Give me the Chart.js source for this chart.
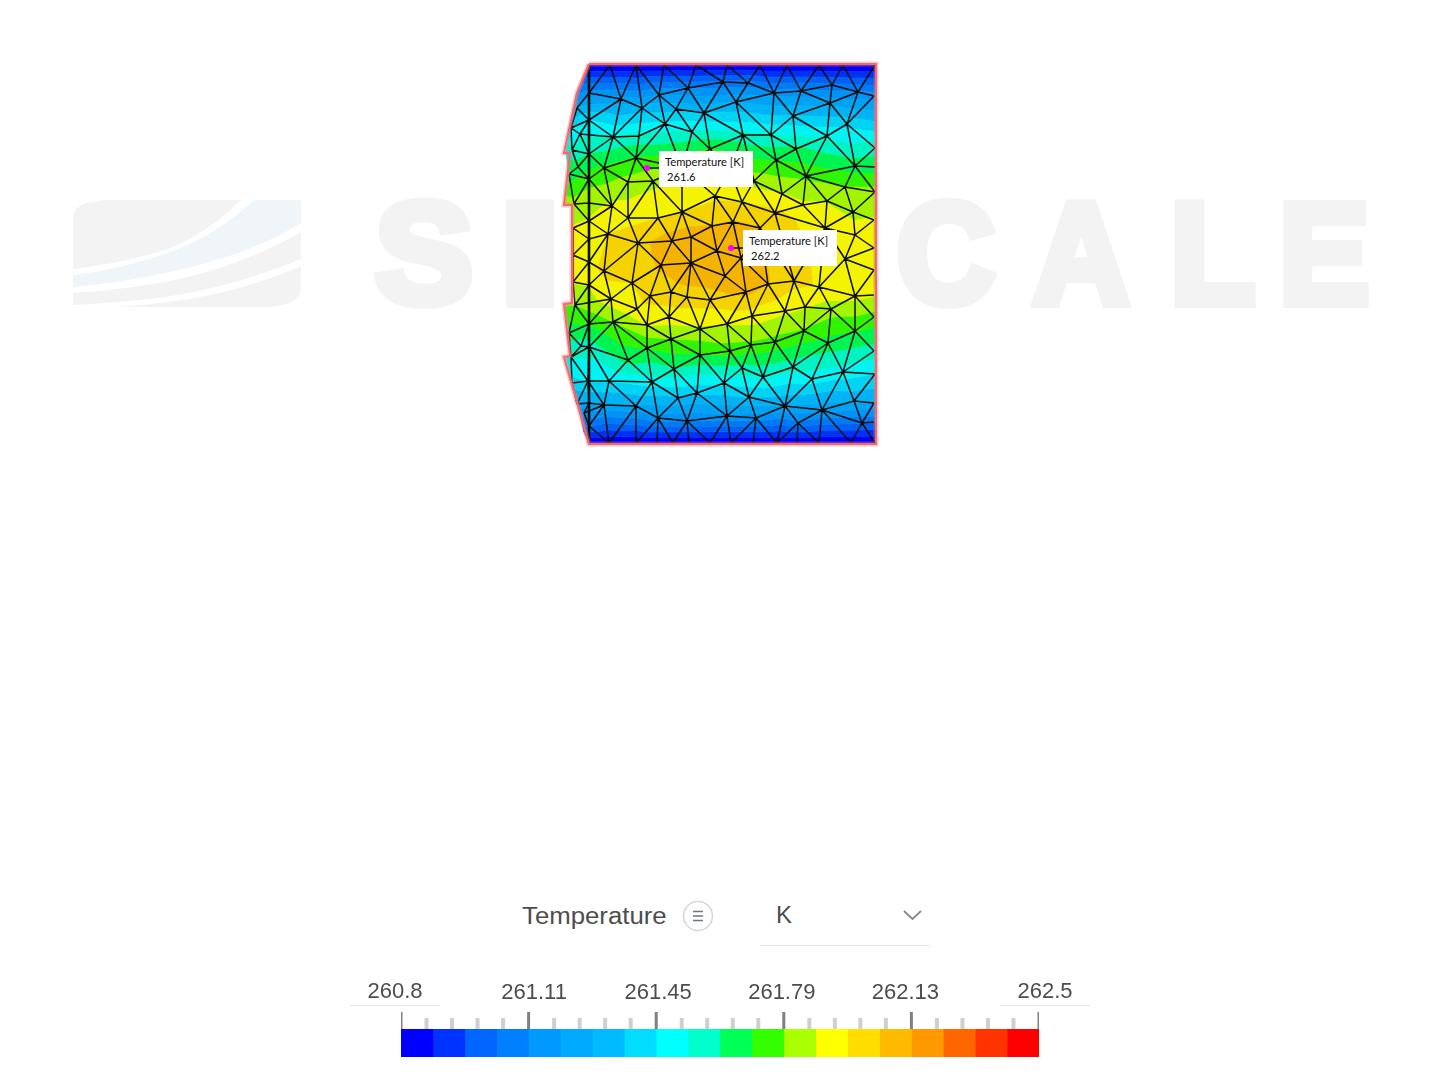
<!DOCTYPE html>
<html lang="en">
<head>
<meta charset="utf-8">
<title>Temperature</title>
<script src="https://cdn.jsdelivr.net/npm/chart.js@4/dist/chart.umd.min.js"></script>
<style>
    html, body { margin: 0; padding: 0; background: #fff; }
    #page { position: relative; width: 1440px; height: 1080px; overflow: hidden; font-family: "Liberation Sans", sans-serif; color: #4d4d4d; }
    #page > * { position: absolute; }
    #watermark { left: 0; top: 0; }
    #meshChart { left: 550px; top: 50px; filter: blur(0.3px); }
    #barChart { left: 340px; top: 975px; filter: blur(0.3px); }
    .probe-box { width: 94px; height: 36px; background: #fff; color: #111; font: 11.2px/13px Lato, sans-serif; }
    .probe-box span { position: absolute; white-space: nowrap; }
    .rule { height: 1px; background: #e4e4e4; }
    #fieldName { left: 522px; top: 902px; font-size: 23px; line-height: 28px; transform: scaleX(1.12); transform-origin: left center; }
    #unitName { left: 776px; top: 901px; font-size: 24px; line-height: 28px; }
</style>
</head>
<body>
<div id="page">
    <svg id="watermark" width="1440" height="1080">
        <path fill="#f3f3f3" d="M73 269 L73 218 Q73 200 112 200 L241 200 Q205 235 168 249 Q125 263 73 269 Z"/>
        <path fill="#eff5f8" d="M254 200 L301 200 L301 223 Q250 255 170 272 Q120 283 73 287 L73 275 Q125 269 173 251 Q218 234 254 200 Z"/>
        <path fill="#f3f3f3" d="M301 232 L301 259 Q240 285 165 297 Q115 303 73 305 L73 293 Q125 290 180 279 Q250 262 301 232 Z"/>
        <path fill="#f3f3f3" d="M301 266 L301 288 Q301 307 262 307 L118 307 Q175 303 220 293 Q265 282 301 266 Z"/>
        <g fill="#f3f3f3" stroke="#f3f3f3" stroke-width="10" font-family="Liberation Sans" font-weight="700" font-size="142">
            <text x="375" y="303" textLength="98" lengthAdjust="spacingAndGlyphs">S</text>
            <text x="499" y="303" textLength="62" lengthAdjust="spacingAndGlyphs">I</text>
            <text x="897" y="303" textLength="98" lengthAdjust="spacingAndGlyphs">C</text>
            <text x="1033" y="303" textLength="96" lengthAdjust="spacingAndGlyphs">A</text>
            <text x="1170" y="303" textLength="85" lengthAdjust="spacingAndGlyphs">L</text>
            <text x="1279" y="303" textLength="90" lengthAdjust="spacingAndGlyphs">E</text>
        </g>
    </svg>

    <canvas id="meshChart" width="340" height="410"></canvas>

    <div class="probe-box" style="left:659px;top:151px"><span style="left:6px;top:4px">Temperature [K]</span><span style="left:8px;top:19px">261.6</span></div>
    <div class="probe-box" style="left:743px;top:230px"><span style="left:6px;top:4px">Temperature [K]</span><span style="left:8px;top:19px">262.2</span></div>

    <div id="fieldName">Temperature</div>
    <svg style="left:680px;top:898px" width="36" height="36">
        <circle cx="18" cy="18" r="14.5" fill="none" stroke="#d8d8d8" stroke-width="1.6"/>
        <path d="M13 13.5H23M13 18H23M13 22.5H23" stroke="#6d7680" stroke-width="1.7"/>
    </svg>
    <div id="unitName">K</div>
    <svg style="left:900px;top:906px" width="26" height="18">
        <path d="M4 5L12.5 13L21 5" fill="none" stroke="#8a8a8a" stroke-width="1.8"/>
    </svg>
    <div class="rule" style="left:760px;top:945px;width:170px"></div>
    <div class="rule" style="left:350px;top:1005px;width:90px"></div>
    <div class="rule" style="left:1000px;top:1005px;width:90px"></div>

    <canvas id="barChart" width="760" height="90"></canvas>
</div>

<script>
// Colour scale
const scaleMin = 260.77;
const scaleMax = 262.47;
const bandEdges = [260.77, 260.855, 260.94, 261.025, 261.11, 261.195, 261.28, 261.365, 261.45, 261.535, 261.62,
    261.705, 261.79, 261.875, 261.96, 262.045, 262.13, 262.215, 262.3, 262.385, 262.47];
const bandColors = ['#0000ff', '#0033ff', '#0066ff', '#0080ff', '#0099ff', '#00aaff', '#00bbff', '#00ddff', '#00ffff', '#00ffcc',
    '#00ff55', '#33ff00', '#aaff00', '#ffff00', '#ffdd00', '#ffbb00', '#ff9900', '#ff6600', '#ff3300', '#ff0000'];
const majorTicks = [260.77, 261.11, 261.45, 261.79, 262.13, 262.47];
const minorTicks = [260.838, 260.906, 260.974, 261.042, 261.178, 261.246, 261.314, 261.382, 261.518, 261.586, 261.654, 261.722,
    261.858, 261.926, 261.994, 262.062, 262.198, 262.266, 262.334, 262.402];
const tickLabels = ['260.8', '261.11', '261.45', '261.79', '262.13', '262.5'];
const labelShift = [-6, 5.5, 2, -2, -6, 6];
const labelLift = [2, 1, 1, 1, 1, 2];

const nodeX = [
    589, 610, 636, 664, 696, 727, 760, 787, 819, 843, 875,
    589, 577, 621, 659, 688, 723, 748, 774, 801, 832, 858, 874,
    642, 676, 704, 736, 793, 830, 847, 827, 771, 743, 692, 665, 639, 613, 589, 580, 571, 572,
    710, 796, 875, 636, 604, 589, 578, 569, 589, 628, 653, 776, 855, 875, 754, 806, 845, 875, 682, 730,
    715, 782, 742, 803, 827, 612, 682, 658, 628, 589, 574, 589, 853, 874, 775, 733, 760, 825, 855, 608, 589, 573,
    638, 672, 691, 712, 717, 741, 874, 845, 573, 589, 604, 661, 691, 725, 768, 794, 819, 746, 855, 874, 874, 573, 589, 632,
    611, 650, 671, 687, 710, 752, 785, 805, 831, 874, 575, 589, 613, 637, 647, 669, 700, 727, 804, 855, 569,
    581, 589, 628, 647, 671, 700, 730, 751, 775, 828, 874, 571, 674, 742, 793, 763, 843, 812, 875,
    588, 609, 652, 724, 572, 697, 678, 749, 785, 822, 854, 874, 577, 589, 604, 636, 658, 687, 727, 756, 798, 862, 874, 589, 584,
    589, 609, 636, 657, 673, 689, 710, 731, 753, 777, 797, 819, 851, 875
];
const nodeY = [
    65, 65, 65, 65, 65, 65, 65, 65, 65, 65, 65,
    93, 108, 99, 95, 88, 82, 83, 93, 91, 85, 92, 96,
    108, 109, 113, 102, 116, 103, 124, 136, 135, 135, 132, 124, 136, 137, 120, 134, 128, 150,
    149, 149, 148, 158, 168, 154, 167, 174, 179, 182, 181, 160, 166, 167, 181, 176, 187, 192, 168, 170,
    196, 194, 202, 205, 201, 206, 212, 218, 218, 203, 204, 221, 212, 220, 213, 222, 228, 228, 235, 234, 239, 228,
    243, 241, 237, 226, 251, 258, 248, 259, 255, 262, 271, 265, 263, 276, 284, 281, 287, 292, 296, 270, 295, 282, 285, 283,
    299, 296, 292, 297, 300, 316, 311, 307, 309, 317, 305, 324, 322, 309, 325, 317, 329, 324, 331, 331, 333,
    346, 347, 360, 348, 339, 355, 351, 345, 342, 343, 351, 357, 369, 368, 367, 377, 372, 379, 374,
    381, 381, 382, 383, 383, 393, 398, 397, 406, 410, 401, 403, 404, 403, 405, 406, 418, 421, 416, 418, 423, 423, 422, 426, 413,
    443, 443, 443, 443, 443, 443, 443, 443, 443, 443, 443, 443, 443, 443
];
const nodeT = [
    260.77, 260.77, 260.77, 260.77, 260.77, 260.77, 260.77, 260.77, 260.77, 260.77, 260.77,
    261.15, 261.28, 261.23, 261.20, 261.11, 261.04, 261.06, 261.16, 261.14, 261.04, 261.12, 261.16,
    261.32, 261.34, 261.37, 261.28, 261.37, 261.25, 261.42, 261.52, 261.54, 261.56, 261.55, 261.47, 261.56, 261.54, 261.45, 261.52, 261.45, 261.56,
    261.71, 261.64, 261.58, 261.71, 261.72, 261.62, 261.66, 261.66, 261.75, 261.82, 261.85, 261.70, 261.66, 261.66, 261.84, 261.77, 261.79, 261.82, 261.81, 261.82,
    261.94, 261.88, 261.96, 261.89, 261.87, 261.89, 261.96, 261.96, 261.93, 261.85, 261.82, 261.88, 261.86, 261.88, 261.98, 262.05, 262.05, 261.93, 261.90, 261.96, 261.92, 261.88,
    262.02, 262.09, 262.10, 262.05, 262.12, 262.12, 261.92, 261.95, 261.89, 261.93, 261.98, 262.06, 262.12, 262.11, 262.05, 261.99, 261.95, 262.07, 261.90, 261.92, 261.88, 261.88, 261.88, 261.96,
    261.92, 261.99, 262.01, 262.01, 262.00, 261.92, 261.89, 261.88, 261.83, 261.76, 261.79, 261.71, 261.79, 261.93, 261.88, 261.92, 261.86, 261.88, 261.78, 261.71, 261.66,
    261.58, 261.58, 261.65, 261.71, 261.79, 261.70, 261.75, 261.77, 261.76, 261.67, 261.58, 261.54, 261.61, 261.59, 261.57, 261.54, 261.50, 261.49, 261.45,
    261.45, 261.45, 261.49, 261.47, 261.42, 261.38, 261.35, 261.37, 261.28, 261.22, 261.30, 261.28, 261.25, 261.28, 261.26, 261.27, 261.16, 261.11, 261.18, 261.15, 261.08, 261.03, 261.03, 261.03, 261.15,
    260.77, 260.77, 260.77, 260.77, 260.77, 260.77, 260.77, 260.77, 260.77, 260.77, 260.77, 260.77, 260.77, 260.77
];

// Points on the outer wall: colour reaches them in the picture but no mesh line does
const wallX = [582, 576, 566, 565, 572, 565, 566, 578, 584];
const wallY = [80, 96, 153, 204, 206, 304, 357, 405, 432];
const wallT = [260.98, 261.12, 261.58, 261.84, 261.84, 261.8, 261.52, 261.2, 260.98];

// Geometry outline and the heavy vertical line near the left wall
const outlineX = [589, 876, 876, 589, 564, 570, 564, 572, 572, 564, 570, 564, 577, 589];
const outlineY = [64, 64, 444, 444, 357, 356, 304, 303, 205, 205, 153, 153, 93, 64];
const spineX = [589, 589];
const spineY = [65, 443];

// Probes
const probeX = [647, 731];
const probeY = [168, 248];
const probeBoxX = [660, 744];

const fieldX = nodeX.concat(wallX);
const fieldY = nodeY.concat(wallY);
const fieldT = nodeT.concat(wallT);

function pointInOutline(x, y) {
    let inside = false;
    for (let i = 0, j = outlineX.length - 1; i < outlineX.length; j = i++) {
        if ((outlineY[i] > y) !== (outlineY[j] > y) &&
            x < (outlineX[j] - outlineX[i]) * (y - outlineY[i]) / (outlineY[j] - outlineY[i]) + outlineX[i]) {
            inside = !inside;
        }
    }
    return inside;
}

// Triangles between the nodes (Bowyer-Watson), the picture's mesh is close to Delaunay
function triangulate() {
    const xs = fieldX.slice();
    const ys = fieldY.slice();
    const n = xs.length;
    xs.push(-5000, 7000, 700);
    ys.push(-5000, -5000, 9000);

    function circle(a, b, c) {
        const d = 2 * (xs[a] * (ys[b] - ys[c]) + xs[b] * (ys[c] - ys[a]) + xs[c] * (ys[a] - ys[b]));
        const sa = xs[a] * xs[a] + ys[a] * ys[a];
        const sb = xs[b] * xs[b] + ys[b] * ys[b];
        const sc = xs[c] * xs[c] + ys[c] * ys[c];
        const ux = (sa * (ys[b] - ys[c]) + sb * (ys[c] - ys[a]) + sc * (ys[a] - ys[b])) / d;
        const uy = (sa * (xs[c] - xs[b]) + sb * (xs[a] - xs[c]) + sc * (xs[b] - xs[a])) / d;
        return { a, b, c, ux, uy, r: (xs[a] - ux) ** 2 + (ys[a] - uy) ** 2 };
    }

    let tris = [circle(n, n + 1, n + 2)];
    for (let p = 0; p < n; p++) {
        const edges = {};
        tris = tris.filter(t => {
            if ((xs[p] - t.ux) ** 2 + (ys[p] - t.uy) ** 2 > t.r) return true;
            [[t.a, t.b], [t.b, t.c], [t.c, t.a]].forEach(([u, v]) => {
                const key = Math.min(u, v) + '_' + Math.max(u, v);
                edges[key] = edges[key] ? null : [u, v];
            });
            return false;
        });
        Object.values(edges).forEach(e => {
            if (e && Math.abs((xs[e[1]] - xs[e[0]]) * (ys[p] - ys[e[0]]) - (ys[e[1]] - ys[e[0]]) * (xs[p] - xs[e[0]])) > 1e-6) {
                tris.push(circle(e[0], e[1], p));
            }
        });
    }

    return tris
        .filter(t => t.a < n && t.b < n && t.c < n)
        .filter(t => pointInOutline((xs[t.a] + xs[t.b] + xs[t.c]) / 3, (ys[t.a] + ys[t.b] + ys[t.c]) / 3))
        .map(t => [t.a, t.b, t.c]);
}

const meshTriangles = triangulate();

// The outer walls carry the outline only, not a mesh line
function onWall(u, v) {
    if (nodeX[u] >= 874 && nodeX[v] >= 874) return true;
    return nodeY[u] === nodeY[v] && (nodeY[u] === 65 || nodeY[u] === 443);
}

// One line dataset holds all the edges, NaN points break the line
function buildEdgePoints() {
    const seen = {};
    const points = [];
    meshTriangles.forEach(([a, b, c]) => {
        [[a, b], [b, c], [c, a]].forEach(([u, v]) => {
            const key = Math.min(u, v) + '_' + Math.max(u, v);
            if (seen[key] || u >= nodeX.length || v >= nodeX.length || onWall(u, v)) return;
            seen[key] = true;
            points.push({ x: nodeX[u], y: nodeY[u] }, { x: nodeX[v], y: nodeY[v] }, { x: NaN, y: NaN });
        });
    });
    return points;
}

// The picture's mesh is lit a little darker than the legend
function shade(hex) {
    const v = parseInt(hex.slice(1), 16);
    const f = 0.955;
    return `rgb(${Math.round((v >> 16) * f)},${Math.round(((v >> 8) & 255) * f)},${Math.round((v & 255) * f)})`;
}

// Keep the part of a polygon on one side of a temperature level
function clipLevel(poly, level, keepAbove) {
    const out = [];
    poly.forEach((p, i) => {
        const q = poly[(i + 1) % poly.length];
        const pIn = keepAbove ? p.t >= level : p.t <= level;
        const qIn = keepAbove ? q.t >= level : q.t <= level;
        if (pIn) out.push(p);
        if (pIn !== qIn) {
            const s = (level - p.t) / (q.t - p.t);
            out.push({ x: p.x + (q.x - p.x) * s, y: p.y + (q.y - p.y) * s, t: level });
        }
    });
    return out;
}

// Filled colour bands of the temperature field
const fieldPlugin = {
    id: 'field',
    beforeDatasetsDraw(chart) {
        const { ctx, scales } = chart;
        ctx.save();
        ctx.lineWidth = 0.7;
        meshTriangles.forEach(tri => {
            const poly = tri.map(i => ({ x: scales.x.getPixelForValue(fieldX[i]), y: scales.y.getPixelForValue(fieldY[i]), t: fieldT[i] }));
            bandColors.forEach((color, b) => {
                let part = clipLevel(poly, bandEdges[b], true);
                if (part.length) part = clipLevel(part, bandEdges[b + 1], false);
                if (part.length < 3) return;
                ctx.beginPath();
                part.forEach((p, i) => (i ? ctx.lineTo(p.x, p.y) : ctx.moveTo(p.x, p.y)));
                ctx.closePath();
                ctx.fillStyle = ctx.strokeStyle = shade(color);
                ctx.fill();
                ctx.stroke();
            });
        });
        ctx.restore();
    }
};

function outlinePoints() {
    return outlineX.map((x, i) => ({ x, y: outlineY[i] }));
}

// Higher order draws first: halo and outline go over the mesh, probes last
new Chart(document.getElementById('meshChart'), {
    type: 'scatter',
    data: {
        datasets: [
            { data: probeX.map((x, i) => ({ x, y: probeY[i] })), pointStyle: 'circle', pointRadius: 3, pointBackgroundColor: '#ff00ff', pointBorderWidth: 0, showLine: false, order: 0 },
            { data: [{ x: probeX[0], y: probeY[0] }, { x: probeBoxX[0], y: probeY[0] }, { x: NaN, y: NaN }, { x: probeX[1], y: probeY[1] }, { x: probeBoxX[1], y: probeY[1] }], showLine: true, spanGaps: false, borderColor: '#111', borderWidth: 1.5, pointRadius: 0, order: 1 },
            { data: outlinePoints(), showLine: true, borderColor: '#f06a6f', borderWidth: 2, pointRadius: 0, order: 2 },
            { data: outlinePoints(), showLine: true, borderColor: 'rgba(245,120,125,0.4)', borderWidth: 5, pointRadius: 0, order: 3 },
            { data: spineX.map((x, i) => ({ x, y: spineY[i] })), showLine: true, borderColor: '#0c0c0c', borderWidth: 2.6, pointRadius: 0, order: 4 },
            { data: buildEdgePoints(), showLine: true, spanGaps: false, borderColor: '#0c0c0c', borderWidth: 1.5, pointRadius: 0, order: 5 }
        ]
    },
    options: {
        responsive: false,
        animation: false,
        layout: { autoPadding: false },
        plugins: { legend: { display: false }, tooltip: { enabled: false } },
        scales: {
            x: { type: 'linear', display: false, min: 550, max: 890 },
            y: { type: 'linear', display: false, min: 50, max: 460, reverse: true }
        }
    },
    plugins: [fieldPlugin]
});

// Tick marks and labels above the colour bar
const barTicksPlugin = {
    id: 'barTicks',
    afterDatasetsDraw(chart) {
        const { ctx, scales, chartArea } = chart;
        const top = chartArea.top;
        ctx.save();
        ctx.fillStyle = '#cfcfcf';
        minorTicks.forEach(v => ctx.fillRect(scales.x.getPixelForValue(v) - 2, top - 11, 4, 11));
        majorTicks.forEach((v, i) => {
            const w = (i === 0 || i === majorTicks.length - 1) ? 1.5 : 3;
            const px = scales.x.getPixelForValue(v);
            ctx.fillStyle = '#808080';
            ctx.fillRect(i === majorTicks.length - 1 ? px - w : i === 0 ? px : px - w / 2, top - 17, w, 17);
            ctx.fillStyle = '#4d4d4d';
            ctx.font = '22px "Liberation Sans"';
            ctx.textAlign = 'center';
            ctx.textBaseline = 'alphabetic';
            ctx.fillText(tickLabels[i], px + labelShift[i], top - 29 - labelLift[i]);
        });
        ctx.restore();
    }
};

new Chart(document.getElementById('barChart'), {
    type: 'bar',
    data: {
        labels: ['Temperature'],
        datasets: bandColors.map((color, i) => ({
            data: [[bandEdges[i], bandEdges[i + 1]]],
            backgroundColor: color,
            borderWidth: 0,
            barPercentage: 1,
            categoryPercentage: 1,
            grouped: false
        }))
    },
    options: {
        indexAxis: 'y',
        responsive: false,
        animation: false,
        layout: { padding: { left: 61, right: 61, top: 54, bottom: 8 } },
        plugins: { legend: { display: false }, tooltip: { enabled: false } },
        scales: {
            x: { type: 'linear', display: false, min: scaleMin, max: scaleMax },
            y: { display: false }
        }
    },
    plugins: [barTicksPlugin]
});
</script>
</body>
</html>
